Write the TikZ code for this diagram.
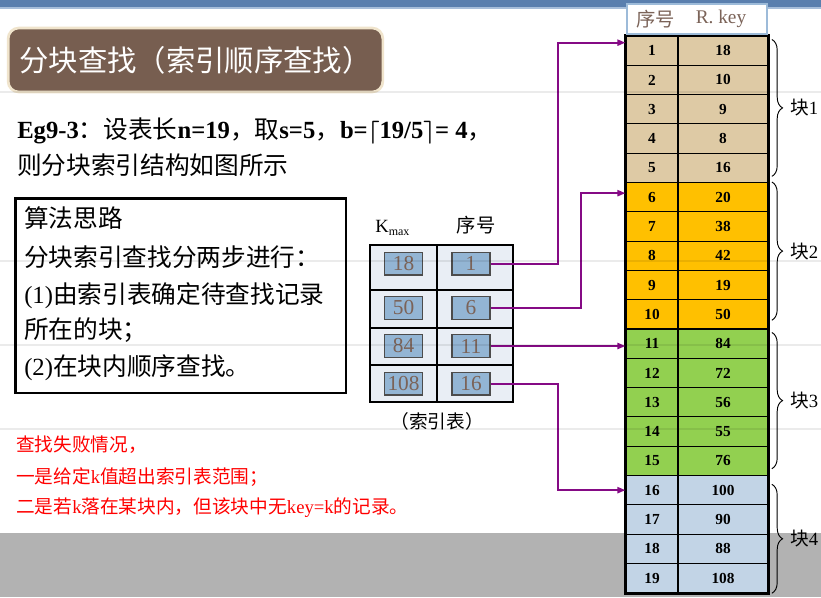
\documentclass[tikz,border=0pt]{standalone}
\usepackage{fontspec}
\setmainfont{Liberation Serif}
\newfontfamily\cjk{Noto Sans CJK SC}
\usetikzlibrary{arrows.meta, positioning, decorations.pathreplacing}
\definecolor{slideblue}{HTML}{5A7FAE}
\definecolor{slideline}{HTML}{A7BEDA}
\definecolor{band}{HTML}{B2B2B2}
\definecolor{titlebrown}{HTML}{775E50}
\definecolor{titlerim}{HTML}{F0E4CC}
\definecolor{link}{HTML}{850A85}
\definecolor{blk1}{HTML}{DECAA5}
\definecolor{blk2}{HTML}{FFC000}
\definecolor{blk3}{HTML}{92D050}
\definecolor{blk4}{HTML}{C2D4E6}
\definecolor{idxfill}{HTML}{E9EEF5}
\definecolor{idxbox}{HTML}{93B5D4}
\definecolor{idxtext}{HTML}{7B6358}
\definecolor{headrim}{HTML}{9DBBD9}
\definecolor{alert}{HTML}{FF0000}

\begin{document}
\begin{tikzpicture}[
  x=0.75pt, y=-0.75pt,
  txt/.style={anchor=west, inner sep=0pt, font=\fontsize{18.5}{20}\selectfont},
  zh/.style={txt, font=\cjk\fontsize{18.5}{20}\selectfont},
  warn/.style={anchor=west, inner sep=0pt, text=alert, font=\cjk\fontsize{14}{16}\selectfont},
  seqc/.style={draw, line width=0.8pt, minimum width=39pt, minimum height=21.975pt, inner sep=0pt, font=\bfseries\fontsize{11.5}{12}\selectfont},
  keyc/.style={seqc, minimum width=67.5pt},
  ibox/.style={draw=black!70, line width=1pt, fill=idxbox, text=idxtext, minimum width=28.5pt, minimum height=17pt, inner sep=0pt, font=\fontsize{16}{16}\selectfont},
  lk/.style={draw=link, line width=1.5pt, -{Triangle[length=6pt, width=4.5pt]}},
  brc/.style={decorate, decoration={brace, amplitude=8pt}, line width=0.7pt},
  guide/.style={draw=black, opacity=0.08, line width=0.8pt}
]
\useasboundingbox (0,0) rectangle (821,597);
% slide background
\fill[white] (0,0) rectangle (821,597);
\fill[slideblue] (0,0) rectangle (821,7);
\draw[slideline, line width=1.5pt] (0,8) -- (821,8);
\fill[band] (0,533) rectangle (821,597);

% title and statement
\node[draw=titlerim, line width=2pt, fill=titlebrown, rounded corners=8pt, minimum width=281pt, minimum height=48pt,
  text=white, font=\cjk\fontsize{22}{24}\selectfont] (title) at (195.5,60) {分块查找（索引顺序查找）};
\node[txt] (eg) at (17,131) {\textbf{Eg9-3}{\cjk ：设表长}\textbf{n=19}{\cjk ，取}\textbf{s=5}{\cjk ，}\textbf{b={\boldmath$\lceil$}19/5{\boldmath$\rceil$}= 4}{\cjk ，}};
\node[zh] (eg2) at (17,165) {则分块索引结构如图所示};

% algorithm box
\node[draw, line width=2pt, minimum width=248pt, minimum height=146pt, inner sep=0pt, anchor=north west] (algo) at (14,197) {};
\node[zh] (al0) at (24,218) {算法思路};
\node[zh] (al1) at (24,257) {分块索引查找分两步进行：};
\node[txt] (al2) at (24,296) {(1){\cjk 由索引表确定待查找记录}};
\node[zh] (al3) at (24,330) {所在的块；};
\node[txt] (al4) at (24,368) {(2){\cjk 在块内顺序查找。}};

% index table
\draw[line width=2pt, fill=idxfill] (370,245) rectangle (513,402);
\draw[line width=2pt] (370,290) -- (513,290);
\draw[line width=1.2pt] (370,328) -- (513,328) (370,365) -- (513,365);
\draw[line width=1pt] (437,245) -- (437,402);
\foreach \kk/\ss/\yy [count=\n] in {18/1/263.5, 50/6/308, 84/11/346, 108/16/383.5} {
  \node[ibox] (ik\n) at (403.5,\yy) {\kk};
  \node[ibox] (is\n) at (471,\yy) {\ss};
}
\node[anchor=west, inner sep=0pt, font=\fontsize{14}{14}\selectfont] (kmax) at (375,228) {K\raisebox{-0.45ex}{\fontsize{9}{9}\selectfont max}};
\node[font=\cjk\fontsize{14.5}{16}\selectfont] (ihd) at (476,225) {序号};
\node[font=\cjk\fontsize{14}{16}\selectfont] (icap) at (437,421) {（索引表）};

% main table
\foreach \kv [count=\i] in {18,10,9,8,16,20,38,42,19,50,84,72,56,55,76,100,90,88,108} {
  \pgfmathtruncatemacro\blk{(\i-1)/5+1}
  \node[seqc, fill=blk\blk] (s\i) at (652,{36+29.3*(\i-0.5)}) {\i};
  \node[keyc, fill=blk\blk] (k\i) at (723,{36+29.3*(\i-0.5)}) {\kv};
}
\draw[line width=2pt] (s1.north west) rectangle (k19.south east);
\node[draw=headrim, line width=1.5pt, fill=white, minimum width=105pt, minimum height=23pt, inner sep=0pt] (hd) at (697,19) {};
\node[text=idxtext, font=\cjk\fontsize{14.5}{16}\selectfont] (hdseq) at (655.5,19) {序号};
\node[text=idxtext, font=\fontsize{14.5}{16}\selectfont] (hdkey) at (721,19) {R. key};

% block braces
\foreach \a/\z/\t/\u [count=\j] in {1/5/3/5, 6/10/0/7, 11/15/3/5.5, 16/19/7/0} {
  \draw[brc] ([xshift=2.5pt, yshift=-\t pt]k\a.north east) -- ([xshift=2.5pt, yshift=\u pt]k\z.south east)
    node[midway, right=10pt, font=\fontsize{14}{16}\selectfont] (bl\j) {{\cjk 块}\j};
}

% links from index to blocks
\draw[lk] (is1.east) -- ++(67,0) |- ([yshift=6pt]s1.west);
\draw[lk] (is2.east) -- ++(90,0) |- ([yshift=3pt]s6.west);
\draw[lk] (is3.east) -- (is3.east -| s11.west);
\draw[lk] (is4.east) -- ++(67,0) |- (s16.west);

% failure cases
\node[warn] (f1) at (16,445) {查找失败情况，};
\node[warn] (f2) at (16,477) {一是给定\textrm{k}值超出索引表范围；};
\node[warn] (f3) at (16,508) {二是若\textrm{k}落在某块内，但该块中无\textrm{key=k}的记录。};

% faint slide guides
\foreach \gy in {92,261,345,429} \draw[guide] (0,\gy) -- (821,\gy);
\end{tikzpicture}
\end{document}
